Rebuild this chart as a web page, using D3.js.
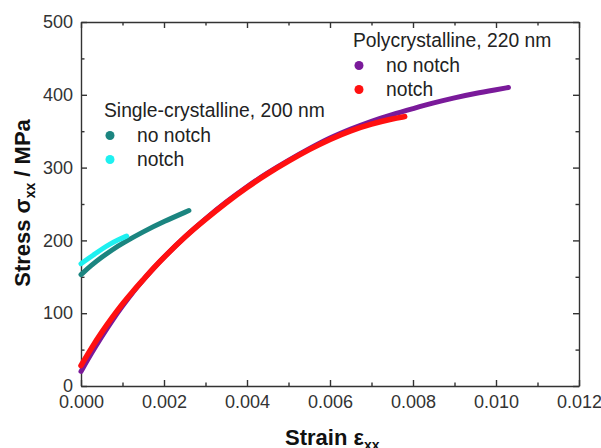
<!DOCTYPE html>
<html>
<head>
<meta charset="UTF-8">
<script src="https://d3js.org/d3.v7.min.js"></script>
<style>
  body { margin: 0; background: #fff; }
  svg { display: block; font-family: "Liberation Sans", Arial, sans-serif; }
  .axis path, .axis line { stroke: #333; stroke-width: 1.4; }
  .axis text { font-size: 18px; fill: #333; }
  .legend { font-size: 19.3px; fill: #222; }
  .title { font-size: 22px; font-weight: bold; fill: #111; }
</style>
</head>
<body>
<svg width="601" height="448"></svg>
<script>
// strain / stress
const polyNoNotchX = [0, 0.00025, 0.0005, 0.00075, 0.001, 0.00125, 0.0015, 0.00175, 0.002, 0.0025, 0.003, 0.0035, 0.004, 0.0045, 0.005, 0.0055, 0.006, 0.0065, 0.007, 0.0075, 0.008, 0.0085, 0.009, 0.0095, 0.010, 0.0103];
const polyNoNotchY = [20, 45, 68, 90, 110, 129, 146, 162, 177, 205, 230, 253, 274, 293, 310, 326, 341, 353, 364, 373, 381, 389, 396, 402, 407, 410];

const polyNotchX = [0, 0.00025, 0.0005, 0.00075, 0.001, 0.00125, 0.0015, 0.00175, 0.002, 0.0025, 0.003, 0.0035, 0.004, 0.0045, 0.005, 0.0055, 0.006, 0.0065, 0.007, 0.0075, 0.0078];
const polyNotchY = [28, 52, 74, 94, 113, 130, 146, 162, 177, 205, 229, 252, 273, 292, 309, 325, 339, 351, 360, 367, 370];

const singleNoNotchX = [0, 0.00025, 0.0005, 0.00075, 0.001, 0.0015, 0.002, 0.0026];
const singleNoNotchY = [153, 166, 177, 187, 196, 212, 226, 241];

const singleNotchX = [0, 0.0001, 0.0003, 0.0005, 0.0007, 0.0009, 0.0011];
const singleNotchY = [168, 172, 180, 188, 195, 201, 206];

const xTicks = [0, 0.002, 0.004, 0.006, 0.008, 0.010, 0.012];
const yTicks = [0, 100, 200, 300, 400, 500];

const svg = d3.select("svg");
const margin = {top: 22, right: 22, bottom: 62, left: 81};
const width = 601 - margin.left - margin.right,
      height = 448 - margin.top - margin.bottom;
const g = svg.append("g").attr("transform", `translate(${margin.left},${margin.top})`);

const x = d3.scaleLinear().domain([0, 0.012]).range([0, width]);
const y = d3.scaleLinear().domain([0, 500]).range([height, 0]);

const xMinor = d3.range(0.001, 0.012, 0.002);
const yMinor = d3.range(50, 500, 100);

// axes, ticks pointing inward on all four sides
function axes(axisFn, scale, major, minor, tr, pad, fmt) {
  const a = g.append("g").attr("class", "axis").attr("transform", tr);
  a.call(axisFn(scale).tickValues(major).tickSizeInner(-6).tickSizeOuter(0)
      .tickPadding(pad).tickFormat(fmt || ""));
  const b = g.append("g").attr("class", "axis").attr("transform", tr);
  b.call(axisFn(scale).tickValues(minor).tickSizeInner(-3.5).tickSizeOuter(0).tickFormat(""));
  b.select(".domain").remove();
  return a;
}
axes(d3.axisBottom, x, xTicks, xMinor, `translate(0,${height})`, 9, d3.format(".3f"));
axes(d3.axisTop, x, xTicks, xMinor, "translate(0,0)", 0);
axes(d3.axisLeft, y, yTicks, yMinor, "translate(0,0)", 8, d3.format("d"));
axes(d3.axisRight, y, yTicks, yMinor, `translate(${width},0)`, 0);

// curves
const line = d3.line().x(d => x(d[0])).y(d => y(d[1])).curve(d3.curveBasis);
const series = [
  {xs: singleNoNotchX, ys: singleNoNotchY, color: "#1b8580", w: 5},
  {xs: singleNotchX, ys: singleNotchY, color: "#1ef0f0", w: 5},
  {xs: polyNoNotchX, ys: polyNoNotchY, color: "#7a1a9a", w: 5},
  {xs: polyNotchX, ys: polyNotchY, color: "#ff1010", w: 5.5}
];
series.forEach(s => {
  g.append("path")
    .datum(s.xs.map((v, i) => [v, s.ys[i]]))
    .attr("d", line)
    .attr("fill", "none")
    .attr("stroke", s.color)
    .attr("stroke-width", s.w)
    .attr("stroke-linecap", "round");
});

// legends
function legend(x0, y0, title, rows) {
  const l = svg.append("g").attr("transform", `translate(${x0},${y0})`);
  l.append("text").attr("class", "legend").attr("x", 0).attr("y", 0).text(title);
  rows.forEach((r, i) => {
    l.append("circle").attr("cx", 6).attr("cy", 18.5 + i * 24).attr("r", 4.5).attr("fill", r.color);
    l.append("text").attr("class", "legend").attr("x", 33).attr("y", 25 + i * 24).text(r.name);
  });
}
legend(353, 47, "Polycrystalline, 220 nm", [{name: "no notch", color: "#7a1a9a"}, {name: "notch", color: "#ff1010"}]);
legend(104, 117, "Single-crystalline, 200 nm", [{name: "no notch", color: "#1b8580"}, {name: "notch", color: "#1ef0f0"}]);

// axis titles
const xt = svg.append("text").attr("class", "title").attr("x", 285).attr("y", 445);
xt.append("tspan").text("Strain ε");
xt.append("tspan").attr("dy", 5).attr("font-size", 14).text("xx");

const yt = svg.append("text").attr("class", "title")
  .attr("transform", "translate(30,203) rotate(-90)").attr("text-anchor", "middle");
yt.append("tspan").text("Stress σ");
yt.append("tspan").attr("dy", 5).attr("font-size", 14).text("xx");
yt.append("tspan").attr("dy", -5).text(" / MPa");
</script>
</body>
</html>
